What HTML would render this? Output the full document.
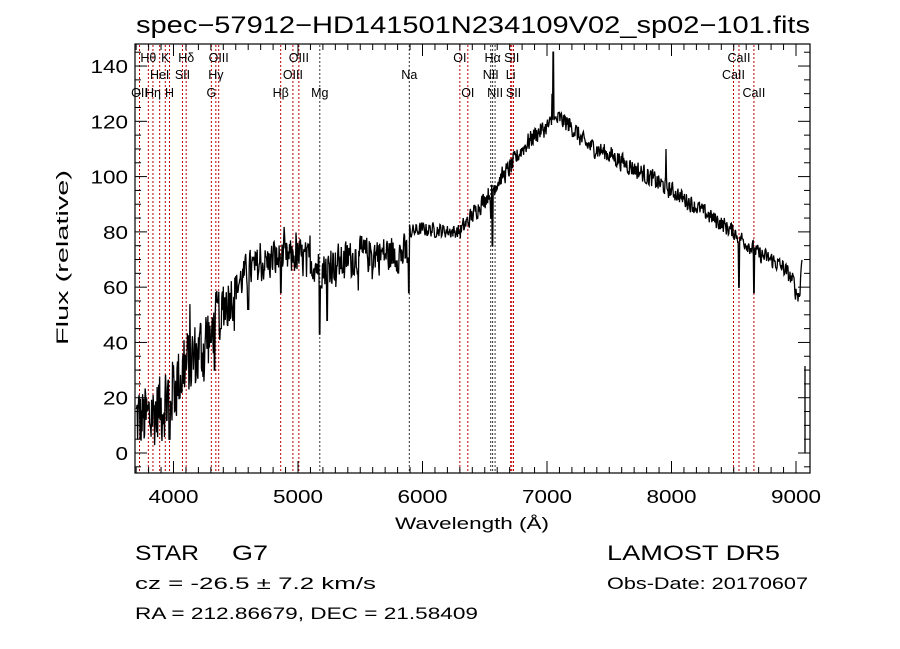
<!DOCTYPE html>
<html><head><meta charset="utf-8"><style>
html,body{margin:0;padding:0;background:#fff;}
svg{display:block;font-family:"Liberation Sans",sans-serif;}
</style></head><body>
<svg id="s" width="900" height="649" viewBox="0 0 900 649" xmlns="http://www.w3.org/2000/svg">
<rect width="900" height="649" fill="#fff"/>
<text x="136" y="33" font-size="24" textLength="674" lengthAdjust="spacingAndGlyphs">spec−57912−HD141501N234109V02_sp02−101.fits</text>
<g id="lines" stroke="#b00" stroke-width="1" stroke-dasharray="2,2"></g>
<g id="labs" font-size="12.5" fill="#000"></g>
<path id="spec" fill="none" stroke="#000" stroke-width="1.3"/>
<rect x="135" y="44" width="675" height="429" fill="none" stroke="#000" stroke-width="1.2"/>
<g id="ticks" stroke="#000" stroke-width="1"></g>
<g id="tl" font-size="18" fill="#000"></g>
<text x="395" y="529" font-size="17" textLength="154" lengthAdjust="spacingAndGlyphs">Wavelength (Å)</text>
<text transform="translate(68,345) rotate(-90)" font-size="17" textLength="175" lengthAdjust="spacingAndGlyphs">Flux (relative)</text>
<text x="135" y="560" font-size="21" textLength="64" lengthAdjust="spacingAndGlyphs">STAR</text>
<text x="232" y="560" font-size="21" textLength="36" lengthAdjust="spacingAndGlyphs">G7</text>
<text x="135" y="589" font-size="17" textLength="241" lengthAdjust="spacingAndGlyphs">cz = -26.5 ± 7.2 km/s</text>
<text x="135" y="619" font-size="17" textLength="343" lengthAdjust="spacingAndGlyphs">RA = 212.86679, DEC =  21.58409</text>
<text x="607" y="560" font-size="21" textLength="173" lengthAdjust="spacingAndGlyphs">LAMOST DR5</text>
<text x="607" y="589" font-size="17" textLength="201" lengthAdjust="spacingAndGlyphs">Obs-Date: 20170607</text>
</svg>
<script>
var NS="http://www.w3.org/2000/svg";
function X(l){return 173.5+(l-4000)*0.1245;}
function Y(f){return 453-f*2.764;}
function el(p,t,a,txt){var e=document.createElementNS(NS,t);for(var k in a)e.setAttribute(k,a[k]);if(txt)e.textContent=txt;document.getElementById(p).appendChild(e);}
var L=[[3727,"OII",3],[3798,"Hθ",1],[3835,"Hη",3],[3889,"HeI",2],[3934,"K",1],[3968,"H",3],[4072,"SII",2],[4102,"Hδ",1],[4304,"G",3],[4340,"Hγ",2],[4363,"OIII",1],[4861,"Hβ",3],[4959,"OIII",2],[5007,"OIII",1],[5175,"Mg",3],[5894,"Na",2],[6300,"OI",1],[6364,"OI",3],[6548,"NII",2],[6563,"Hα",1],[6583,"NII",3],[6708,"Li",2],[6717,"SII",1],[6731,"SII",3],[8498,"CaII",2],[8542,"CaII",1],[8662,"CaII",3]];
var black={5175:1,5894:1,6548:1,6563:1,6583:1};
L.forEach(function(d){var x=X(d[0]);el("lines","line",{x1:x,y1:45,x2:x,y2:472,stroke:black[d[0]]?"#333":"#b00"});
el("labs","text",{x:x,y:[0,62,79,97][d[2]],"text-anchor":"middle"},d[1]);});
for(var l=3700;l<=9090;l+=100){var x=X(l),big=l%1000==0,len=big?12:6;
el("ticks","line",{x1:x,y1:473,x2:x,y2:473-len});el("ticks","line",{x1:x,y1:44,x2:x,y2:44+len});
if(big)el("tl","text",{x:x-25,y:503,textLength:50,lengthAdjust:"spacingAndGlyphs"},String(l));}
for(var f=-5;f<=145;f+=5){var y=Y(f),big=f%20==0,len=big?12:6;if(y<44||y>473)continue;
el("ticks","line",{x1:135,y1:y,x2:135+len,y2:y});el("ticks","line",{x1:810,y1:y,x2:810-len,y2:y});
if(big){var s=String(f),w=s.length*12.5;el("tl","text",{x:128-w,y:y+7,textLength:w,lengthAdjust:"spacingAndGlyphs"},s);}}
var A=[[3700,12],[3800,12],[3900,17],[4000,24],[4100,31],[4200,36],[4300,44],[4400,53],[4500,60],[4600,66],[4800,70],[5000,71],[5200,67],[5400,70],[5600,72],[5880,72],[5900,80],[6000,81],[6300,80],[6400,86],[6500,92],[6600,98],[6700,103],[6800,110],[6900,115],[7000,118],[7100,121],[7200,118],[7300,112],[7400,110],[7500,108],[7700,103],[8000,95],[8300,86],[8500,80],[8600,76],[8700,72],[8800,70],[8900,67],[8980,62],[9000,58],[9030,57],[9045,70]];
function cont(l){for(var i=0;i<A.length-1;i++){if(l<=A[i+1][0]){var t=(l-A[i][0])/(A[i+1][0]-A[i][0]);return A[i][1]+t*(A[i+1][1]-A[i][1]);}}return A[A.length-1][1];}
var seed=12345;function rnd(){seed=(seed*1103515245+12345)%2147483648;return seed/2147483648;}
var D={5175:43,4861:58,5890:58,6563:75,8542:60,8662:58,6550:85,4300:40,3968:5,4330:30,4380:45,5235:48,4600:52};
var p="",prev=0;
for(var l=3700;l<=9048;l+=4){var c=cont(l),amp=l<4300?16:l<4500?12:l<5900?8:l<6300?3:l<8000?4:3.5;
var n=(rnd()-0.5)*2*amp;if(l<5900&&rnd()<0.06)n*=1.8;var v=c+0.8*n+0.2*prev;prev=n;
for(var k in D){if(Math.abs(l-k)<5)v=Math.min(v,D[k]);}
if(Math.abs(l-7050)<3)v=145;if(Math.abs(l-7040)<3)v=130;if(Math.abs(l-7955)<3)v=110;
if(v<-5)v=-5;p+=(p?"L":"M")+X(l).toFixed(1)+","+Y(v).toFixed(1);}
p+="M805,453L805,366";
document.getElementById("spec").setAttribute("d",p);
</script>
</body></html>
